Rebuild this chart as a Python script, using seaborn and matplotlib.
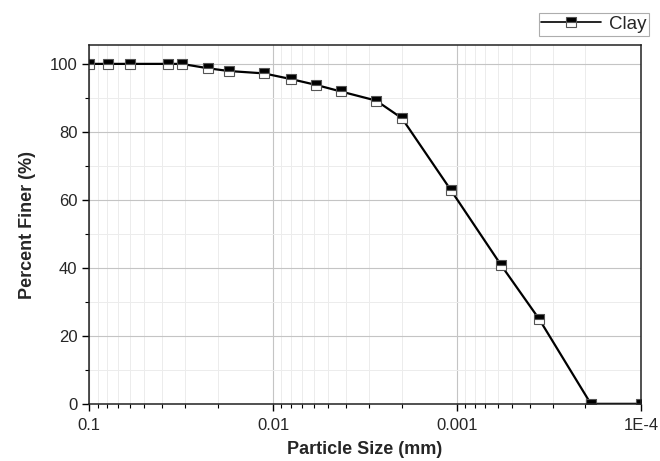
import numpy as np
import pandas as pd
import matplotlib
matplotlib.use("Agg")
import matplotlib.pyplot as plt
import matplotlib.ticker as mticker
import seaborn as sns

# particle size (mm) and percent finer for the clay sample
particle_size = [0.1, 0.0792, 0.0599, 0.0374, 0.0314, 0.0225, 0.0174, 0.0112,
                 0.00794, 0.00582, 0.00429, 0.00275, 0.00199, 0.00108,
                 0.000577, 0.000357, 0.000187, 0.0001]
percent_finer = [100, 100, 100, 100, 100, 98.7, 97.9, 97.2,
                 95.5, 93.8, 91.9, 89.2, 84.0, 62.9,
                 40.9, 24.9, 0, 0]
x_ticks = [0.1, 0.01, 0.001, 0.0001]
x_tick_labels = ["0.1", "0.01", "0.001", "1E-4"]
y_ticks = [0, 20, 40, 60, 80, 100]

df = pd.DataFrame({"size": particle_size, "finer": percent_finer})

sns.set_style("white")
plt.rcParams['font.family'] = ['Liberation Sans', 'DejaVu Sans']

fig = plt.figure(figsize=(6.6, 4.61), dpi=100)
ax = fig.add_axes([0.135, 0.124, 0.836, 0.778])

sns.lineplot(data=df, x="size", y="finer", ax=ax, color="black", linewidth=1.6,
             marker="s", markersize=7.5, fillstyle="top",
             markerfacecolor="black", markerfacecoloralt="white",
             markeredgecolor="#555555", markeredgewidth=0.8,
             label="Clay", sort=False, estimator=None)

ax.set_xscale("log")
ax.set_xlim(0.1, 0.0001)
ax.set_ylim(0, 105.5)

ax.set_xticks(x_ticks)
ax.set_xticklabels(x_tick_labels)
ax.xaxis.set_minor_locator(mticker.LogLocator(base=10, subs=np.arange(2, 10)))
ax.xaxis.set_minor_formatter(mticker.NullFormatter())
ax.set_yticks(y_ticks)
ax.yaxis.set_minor_locator(mticker.MultipleLocator(10))

ax.grid(True, which="major", color="#c4c4c4", linewidth=0.8)
ax.grid(True, which="minor", color="#ececec", linewidth=0.7)
ax.set_axisbelow(True)

ax.tick_params(axis="both", which="major", direction="out", length=5, width=1,
               labelsize=12, color="black", bottom=True, left=True)
ax.tick_params(axis="x", which="major", pad=5)
ax.tick_params(axis="both", which="minor", direction="out", length=3, width=0.8,
               color="black", bottom=True, left=True)

for sp in ax.spines.values():
    sp.set_color("#222222")
    sp.set_linewidth(1.1)

ax.set_xlabel("Particle Size (mm)", fontsize=13, fontweight="bold", labelpad=6)
ax.set_ylabel("Percent Finer (%)", fontsize=13, fontweight="bold", labelpad=10)

ax.get_legend().remove()
handles, labels = ax.get_legend_handles_labels()
leg = fig.legend(handles, labels, loc="upper right", bbox_to_anchor=(0.998, 0.992),
                 fontsize=13.5, frameon=True, fancybox=False, handlelength=3.2,
                 borderpad=0.15, handletextpad=0.4)
leg.get_frame().set_edgecolor("#999999")
leg.get_frame().set_linewidth(0.8)
leg.get_lines()[0].set_linewidth(1.2)

fig.savefig("out.png", dpi=100)
